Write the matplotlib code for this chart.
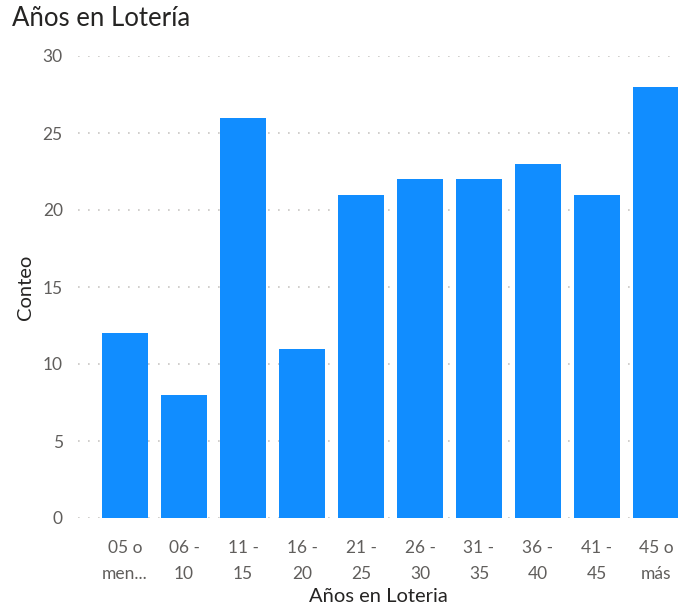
import matplotlib
matplotlib.use("Agg")
import matplotlib.pyplot as plt

categories = ["05 o\nmen...", "06 -\n10", "11 -\n15", "16 -\n20", "21 -\n25",
              "26 -\n30", "31 -\n35", "36 -\n40", "41 -\n45", "45 o\nmás"]
counts = [12, 8, 26, 11, 21, 22, 22, 23, 21, 28]
yticks = [0, 5, 10, 15, 20, 25, 30]

plt.rcParams['font.family'] = ['Lato', 'DejaVu Sans']

fig = plt.figure(figsize=(6.78, 6.09), dpi=100)
W, H = 678, 609
ax = fig.add_axes([78 / W, (H - 518) / H, 600 / W, 462 / H])

x = list(range(len(categories)))
ax.bar(x, counts, width=0.78, color="#118DFF", zorder=3)

ax.set_xlim(-0.797, 9.373)
ax.set_ylim(0, 30)
ax.set_yticks(yticks)
ax.set_xticks(x)
ax.set_xticklabels(categories, linespacing=1.75)
ax.tick_params(axis='both', length=0, colors="#605E5C", labelsize=12.5)
ax.tick_params(axis='y', pad=11)
ax.tick_params(axis='x', pad=16)

ax.grid(axis='y', color="#C8C6C4", linestyle=(0, (1, 5)), linewidth=1.2, zorder=0)
for s in ax.spines.values():
    s.set_visible(False)

ax.set_ylabel("Conteo", fontsize=14.5, color="#252423", labelpad=6)
ax.set_xlabel("Años en Loteria", fontsize=14.5, color="#252423", labelpad=4)

fig.text(12 / W, 1 - 19 / H, "Años en Lotería", fontsize=18.5, color="#252423",
         va="center", ha="left")

fig.savefig("out.png", dpi=100)
